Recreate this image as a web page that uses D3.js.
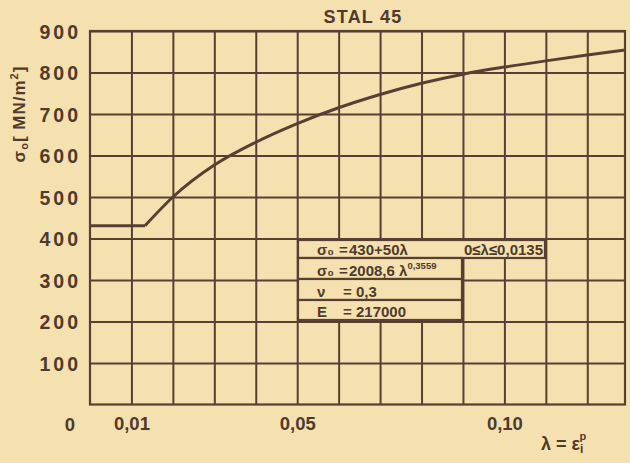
<!DOCTYPE html>
<html>
<head>
<meta charset="utf-8">
<script src="https://cdn.jsdelivr.net/npm/d3@7"></script>
<style>
  html, body { margin: 0; padding: 0; background: #f5e1b0; }
  svg { display: block; }
  text { font-family: "Liberation Sans", Arial, sans-serif; font-weight: bold; fill: #4f3a2b; }
</style>
</head>
<body>
<div id="chart"></div>
<script>
// values
const yTicks = [100, 200, 300, 400, 500, 600, 700, 800, 900];
const xGrid = [0.01, 0.02, 0.03, 0.04, 0.05, 0.06, 0.07, 0.08, 0.09, 0.10, 0.11, 0.12];
const xLabels = [0.01, 0.05, 0.10];
const lambda = [0, 0.0133, 0.02, 0.03, 0.04, 0.05, 0.06, 0.07, 0.08, 0.09, 0.10, 0.11, 0.12, 0.1291];
const sigma = [431, 431, 500, 577, 632, 677, 715, 747, 774, 796, 813, 828, 842, 854];
const legendRows = [
  { lhs: "σ₀", rhs: "430+50λ", extra: "0≤λ≤0,0135" },
  { lhs: "σ₀", rhs: "2008,6 λ", sup: "0,3559" },
  { lhs: "ν", rhs: "0,3" },
  { lhs: "E", rhs: "217000" }
];

const W = 630, H = 463;
const margin = { top: 31, left: 90 };
const width = 535, height = 373.5;
const ink = "#574032";
const paper = "#f5e1b0";

const svg = d3.select("#chart").append("svg")
  .attr("width", W).attr("height", H);
svg.append("rect").attr("width", W).attr("height", H).attr("fill", paper);

const x = d3.scaleLinear().domain([0, 0.1291]).range([0, width]);
const y = d3.scaleLinear().domain([0, 900]).range([height, 0]);

const g = svg.append("g").attr("transform", `translate(${margin.left},${margin.top})`);

// grid
g.append("g")
  .attr("transform", `translate(0,${height})`)
  .call(d3.axisBottom(x).tickValues(xGrid).tickSize(-height).tickFormat(""))
  .call(a => a.select(".domain").remove())
  .call(a => a.selectAll("line").attr("stroke", ink).attr("stroke-width", 2));

g.append("g")
  .call(d3.axisLeft(y).tickValues(yTicks).tickSize(-width).tickFormat(""))
  .call(a => a.select(".domain").remove())
  .call(a => a.selectAll("line").attr("stroke", ink).attr("stroke-width", 2));

g.append("rect")
  .attr("width", width).attr("height", height)
  .attr("fill", "none").attr("stroke", ink).attr("stroke-width", 2.2);

// y labels
g.append("g")
  .call(d3.axisLeft(y).tickValues(yTicks).tickSize(0).tickPadding(9))
  .call(a => a.select(".domain").remove())
  .call(a => a.selectAll("text")
    .style("font-size", "19.5px").style("letter-spacing", "3px")
    .attr("fill", "#4f3a2b").attr("dy", "0.36em"));

// x labels
g.append("g")
  .attr("transform", `translate(0,${height})`)
  .call(d3.axisBottom(x).tickValues(xLabels).tickSize(0).tickPadding(12)
    .tickFormat(d => d3.format(".2f")(d).replace(".", ",")))
  .call(a => a.select(".domain").remove())
  .call(a => a.selectAll("text").style("font-size", "18.5px").attr("fill", "#4f3a2b"));

g.append("text")
  .attr("x", x(0) - 20).attr("y", height + 26)
  .attr("text-anchor", "middle")
  .style("font-size", "18.5px")
  .text("0");

// curve: linear plateau, then smooth rise
const pts = lambda.map((l, i) => [l, sigma[i]]);
const flat = d3.line().x(d => x(d[0])).y(d => y(d[1]));
const rise = d3.line().x(d => x(d[0])).y(d => y(d[1])).curve(d3.curveMonotoneX);

g.append("path")
  .attr("d", flat(pts.slice(0, 2)))
  .attr("fill", "none").attr("stroke", ink).attr("stroke-width", 3);
g.append("path")
  .attr("d", rise(pts.slice(1)))
  .attr("fill", "none").attr("stroke", ink).attr("stroke-width", 3)
  .attr("stroke-linejoin", "round");

// legend table
const lx = 298, ly = 240;
const wide = 247, narrow = 164;
const rowH = [18, 21, 21, 20];
let ry = ly;
const leg = svg.append("g");
legendRows.forEach((r, i) => {
  const w = i === 0 ? wide : narrow;
  leg.append("rect")
    .attr("x", lx).attr("y", ry).attr("width", w).attr("height", rowH[i])
    .attr("fill", paper).attr("stroke", ink).attr("stroke-width", 2.2);
  const base = ry + rowH[i] - 3.5;
  const t = leg.append("text").attr("y", base).style("font-size", "15px");
  t.append("tspan").attr("x", 317).text(r.lhs);
  t.append("tspan").attr("x", i < 2 ? 339 : 343).text("=");
  t.append("tspan").attr("x", i < 2 ? 349 : 356).text(r.rhs);
  if (r.sup) {
    t.append("tspan").attr("dy", -7).style("font-size", "9.5px").text(r.sup);
  }
  if (r.extra) {
    leg.append("text").attr("x", 543).attr("y", base)
      .attr("text-anchor", "end").style("font-size", "15px").text(r.extra);
  }
  ry += rowH[i];
});

// titles
svg.append("text")
  .attr("x", 363).attr("y", 23)
  .attr("text-anchor", "middle")
  .style("font-size", "18px").style("letter-spacing", "1.2px")
  .text("STAL 45");

const yt = svg.append("text")
  .attr("transform", "translate(25,114) rotate(-90)")
  .attr("text-anchor", "middle")
  .style("font-size", "17px").style("letter-spacing", "1px");
yt.append("tspan").text("σ");
yt.append("tspan").attr("dy", 3).style("font-size", "11px").text("o");
yt.append("tspan").attr("dy", -3).text("[ MN/m");
yt.append("tspan").attr("dy", -7).style("font-size", "11px").text("2");
yt.append("tspan").attr("dy", 7).text("]");

const xt = svg.append("text")
  .attr("x", 541).attr("y", 450)
  .style("font-size", "18px");
xt.append("tspan").text("λ = ε");
xt.append("tspan").attr("dy", 3).style("font-size", "12px").text("i");
xt.append("tspan").attr("dx", -4).attr("dy", -13).style("font-size", "11px").text("p");
</script>
</body>
</html>
